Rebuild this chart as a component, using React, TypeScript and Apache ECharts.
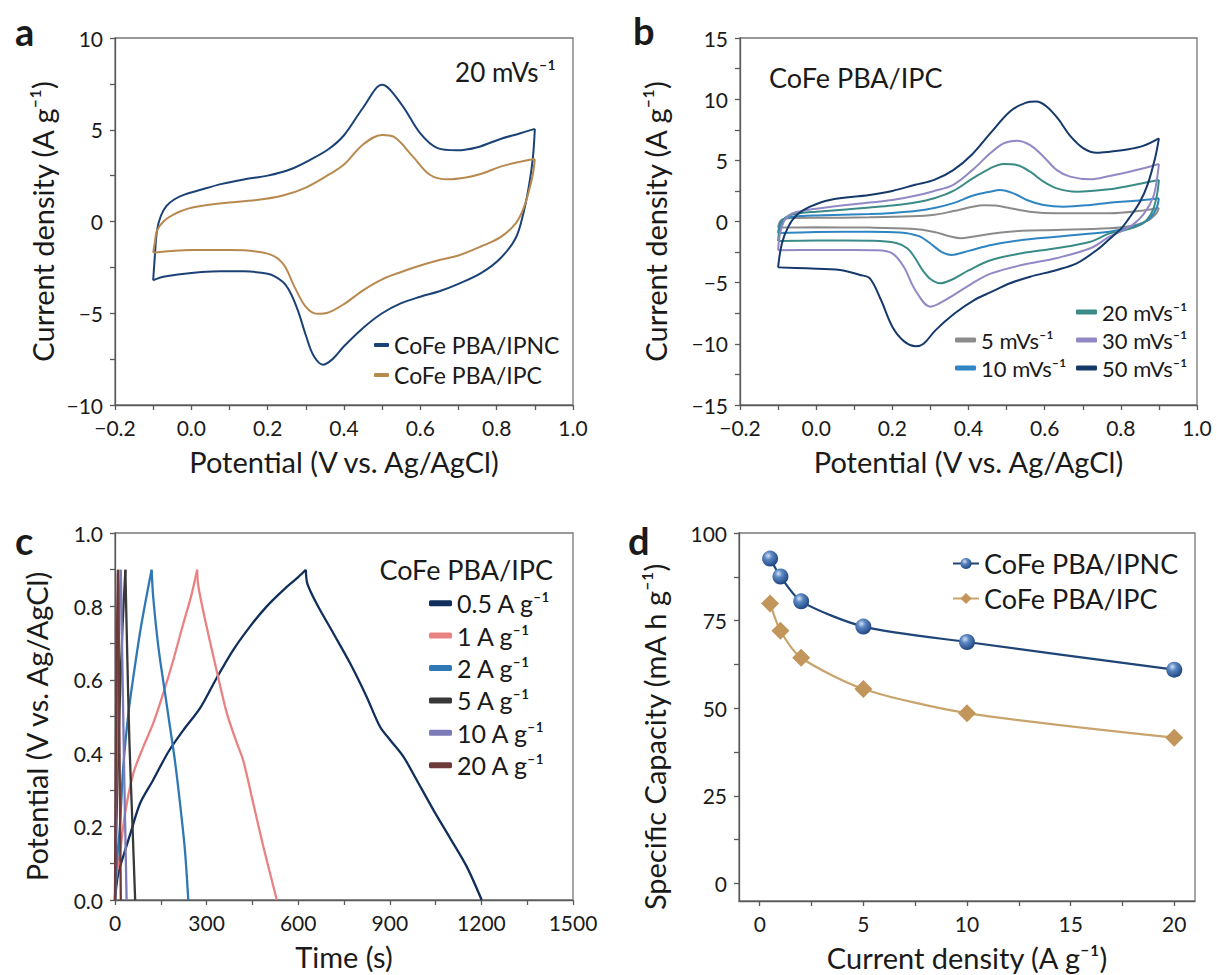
import React, { useEffect, useRef } from 'react';
import * as echarts from 'echarts';

const FONT = 'Lato, "Noto Sans", sans-serif';
const INK = '#1a1a1a';
const AXIS = '#5a5a5a';

// ---------- Panel a : CV at 20 mV/s ----------
const a_ipnc_fwdV = [-0.1, -0.096, -0.09, -0.08, -0.065, -0.045, -0.02, 0.02, 0.08, 0.14, 0.2, 0.26, 0.31, 0.36, 0.4, 0.45, 0.5, 0.55, 0.6, 0.645, 0.695, 0.75, 0.81, 0.86, 0.9];
const a_ipnc_fwdJ = [-3.2, -2.0, -0.5, 0.3, 0.85, 1.2, 1.45, 1.7, 2.05, 2.3, 2.5, 2.85, 3.35, 3.95, 4.7, 6.2, 7.45, 6.4, 4.8, 4.0, 3.88, 4.05, 4.5, 4.8, 5.05];
const a_ipnc_revV = [0.9, 0.895, 0.885, 0.87, 0.85, 0.81, 0.76, 0.7, 0.65, 0.6, 0.55, 0.5, 0.45, 0.4, 0.37, 0.345, 0.32, 0.3, 0.28, 0.26, 0.24, 0.2, 0.1, 0.0, -0.07, -0.1];
const a_ipnc_revJ = [5.05, 3.5, 2.0, 0.45, -0.9, -2.0, -2.8, -3.4, -3.8, -4.1, -4.45, -5.0, -5.8, -6.8, -7.5, -7.8, -7.3, -6.2, -4.9, -3.9, -3.3, -2.85, -2.7, -2.8, -3.0, -3.2];

const a_ipc_fwdV = [-0.1, -0.096, -0.09, -0.073, -0.047, 0.0, 0.08, 0.17, 0.24, 0.3, 0.36, 0.4, 0.45, 0.5, 0.53, 0.58, 0.625, 0.67, 0.72, 0.76, 0.81, 0.86, 0.9];
const a_ipc_fwdJ = [-1.7, -1.2, -0.5, 0.0, 0.38, 0.75, 1.0, 1.17, 1.42, 1.85, 2.55, 3.1, 4.2, 4.72, 4.62, 3.55, 2.55, 2.3, 2.4, 2.6, 2.99, 3.25, 3.4];
const a_ipc_revV = [0.9, 0.895, 0.885, 0.87, 0.85, 0.81, 0.76, 0.7, 0.65, 0.6, 0.55, 0.5, 0.45, 0.4, 0.36, 0.33, 0.3, 0.27, 0.24, 0.2, 0.1, 0.0, -0.1];
const a_ipc_revJ = [3.4, 2.6, 1.7, 0.7, -0.1, -0.85, -1.35, -1.85, -2.1, -2.4, -2.75, -3.15, -3.75, -4.5, -4.95, -5.03, -4.65, -3.55, -2.3, -1.75, -1.55, -1.55, -1.7];

// ---------- Panel b : CV at several scan rates ----------
const b5_fwdV = [-0.1, -0.095, -0.085, -0.06, 0.0, 0.14, 0.25, 0.31, 0.36, 0.41, 0.44, 0.47, 0.51, 0.56, 0.63, 0.77, 0.86, 0.9];
const b5_fwdJ = [-0.5, 0.0, 0.2, 0.28, 0.3, 0.34, 0.42, 0.55, 0.85, 1.2, 1.33, 1.3, 1.08, 0.8, 0.67, 0.67, 0.9, 1.1];
const b5_revV = [0.9, 0.895, 0.885, 0.87, 0.83, 0.77, 0.63, 0.54, 0.46, 0.41, 0.38, 0.35, 0.31, 0.25, 0.14, 0.0, -0.1];
const b5_revJ = [1.1, 0.75, 0.4, 0.05, -0.35, -0.56, -0.69, -0.75, -1.0, -1.25, -1.37, -1.2, -0.85, -0.6, -0.5, -0.48, -0.5];

const b10_fwdV = [-0.1, -0.095, -0.085, -0.07, -0.04, 0.0, 0.14, 0.2, 0.26, 0.31, 0.36, 0.41, 0.457, 0.483, 0.518, 0.553, 0.597, 0.65, 0.72, 0.77, 0.82, 0.86, 0.9];
const b10_fwdJ = [-0.95, -0.2, 0.2, 0.35, 0.45, 0.5, 0.61, 0.7, 0.85, 1.1, 1.5, 2.1, 2.44, 2.57, 2.3, 1.76, 1.35, 1.21, 1.35, 1.54, 1.65, 1.75, 1.9];
const b10_revV = [0.9, 0.895, 0.885, 0.87, 0.84, 0.8, 0.77, 0.63, 0.54, 0.46, 0.4, 0.355, 0.33, 0.3, 0.27, 0.22, 0.14, 0.0, -0.1];
const b10_revJ = [1.9, 1.2, 0.6, 0.1, -0.35, -0.65, -0.83, -1.24, -1.51, -1.92, -2.4, -2.73, -2.5, -1.8, -1.2, -0.9, -0.83, -0.85, -0.95];

const b20_fwdV = [-0.1, -0.095, -0.085, -0.07, -0.04, 0.0, 0.14, 0.2, 0.26, 0.31, 0.36, 0.41, 0.457, 0.492, 0.527, 0.562, 0.597, 0.632, 0.684, 0.77, 0.82, 0.86, 0.9];
const b20_fwdJ = [-1.6, -0.5, 0.2, 0.5, 0.7, 0.8, 1.14, 1.3, 1.55, 1.9, 2.5, 3.5, 4.35, 4.7, 4.62, 4.07, 3.26, 2.71, 2.44, 2.63, 2.9, 3.15, 3.4];
const b20_revV = [0.9, 0.895, 0.885, 0.87, 0.85, 0.8, 0.77, 0.72, 0.63, 0.54, 0.46, 0.4, 0.36, 0.325, 0.3, 0.28, 0.26, 0.24, 0.21, 0.15, 0.0, -0.1];
const b20_revJ = [3.4, 2.2, 1.0, 0.2, -0.3, -0.8, -0.97, -1.65, -2.19, -2.6, -3.15, -4.0, -4.7, -5.05, -4.7, -4.0, -3.0, -2.2, -1.75, -1.57, -1.55, -1.6];

const b30_fwdV = [-0.1, -0.095, -0.085, -0.07, -0.04, 0.0, 0.14, 0.2, 0.26, 0.31, 0.36, 0.41, 0.457, 0.492, 0.527, 0.562, 0.597, 0.632, 0.667, 0.72, 0.77, 0.82, 0.86, 0.9];
const b30_fwdJ = [-2.35, -1.0, 0.0, 0.55, 0.85, 1.05, 1.55, 1.75, 2.1, 2.5, 3.0, 4.2, 5.57, 6.39, 6.61, 6.25, 5.3, 4.2, 3.67, 3.45, 3.72, 4.05, 4.35, 4.7];
const b30_revV = [0.9, 0.895, 0.885, 0.86, 0.83, 0.8, 0.77, 0.72, 0.63, 0.54, 0.46, 0.41, 0.34, 0.3, 0.26, 0.23, 0.2, 0.16, 0.1, 0.0, -0.1];
const b30_revJ = [4.7, 3.5, 2.0, 0.6, -0.3, -0.8, -1.24, -2.19, -3.0, -3.56, -4.24, -5.05, -6.4, -6.96, -5.6, -3.7, -2.6, -2.35, -2.33, -2.33, -2.35];

const b50_fwdV = [-0.1, -0.09, -0.073, -0.051, -0.016, 0.036, 0.14, 0.2, 0.26, 0.31, 0.36, 0.41, 0.457, 0.509, 0.55, 0.578, 0.605, 0.635, 0.667, 0.702, 0.737, 0.772, 0.82, 0.86, 0.9];
const b50_fwdJ = [-3.75, -1.79, -0.42, 0.53, 1.21, 1.76, 2.17, 2.5, 3.0, 3.4, 4.2, 5.5, 7.2, 9.0, 9.7, 9.8, 9.4, 8.4, 7.0, 5.98, 5.62, 5.71, 5.9, 6.2, 6.8];
const b50_revV = [0.9, 0.89, 0.87, 0.85, 0.82, 0.8, 0.772, 0.737, 0.684, 0.632, 0.562, 0.509, 0.457, 0.416, 0.364, 0.313, 0.282, 0.262, 0.231, 0.2, 0.17, 0.141, 0.115, 0.063, -0.025, -0.1];
const b50_revJ = [6.8, 5.2, 3.0, 1.6, 0.2, -0.6, -1.38, -2.33, -3.42, -3.96, -4.51, -5.05, -5.8, -6.4, -7.5, -8.9, -10.0, -10.2, -9.8, -8.6, -6.4, -4.65, -4.37, -3.96, -3.83, -3.75];

// ---------- Panel c : galvanostatic charge / discharge ----------
const c05_chT = [0, 8, 20, 50, 82, 125, 175, 224, 278, 333, 387, 442, 497, 552, 600, 625];
const c05_chV = [0, 0.06, 0.1, 0.18, 0.263, 0.327, 0.404, 0.463, 0.522, 0.605, 0.681, 0.745, 0.8, 0.845, 0.88, 0.9];
const c05_dcT = [625, 630, 660, 715, 770, 824, 868, 901, 945, 988, 1043, 1098, 1152, 1201];
const c05_dcV = [0.9, 0.862, 0.808, 0.727, 0.645, 0.554, 0.472, 0.436, 0.39, 0.327, 0.245, 0.168, 0.091, 0];

const c1_chT = [0, 4, 16, 33, 60, 93, 125, 158, 191, 224, 250, 269];
const c1_chV = [0, 0.06, 0.127, 0.236, 0.345, 0.418, 0.481, 0.563, 0.654, 0.754, 0.83, 0.9];
const c1_dcT = [269, 273, 300, 333, 366, 398, 420, 453, 486, 530];
const c1_dcV = [0.9, 0.855, 0.745, 0.625, 0.51, 0.43, 0.38, 0.263, 0.145, 0];

const c2_chT = [0, 4, 16, 27, 44, 65, 87, 120];
const c2_chV = [0, 0.08, 0.2, 0.363, 0.509, 0.636, 0.754, 0.9];
const c2_dcT = [120, 125, 142, 164, 180, 196, 213, 229, 240];
const c2_dcV = [0.9, 0.827, 0.69, 0.563, 0.472, 0.381, 0.263, 0.136, 0];

const c5_chT = [0, 2, 8, 16, 25, 34];
const c5_chV = [0, 0.1, 0.33, 0.55, 0.75, 0.9];
const c5_dcT = [34, 35, 39, 47, 57, 66];
const c5_dcV = [0.9, 0.86, 0.708, 0.436, 0.209, 0];

const c10_chT = [0, 1, 5, 10, 15, 19];
const c10_chV = [0, 0.1, 0.35, 0.6, 0.8, 0.9];
const c10_dcT = [19, 20, 24, 30, 38];
const c10_dcV = [0.9, 0.85, 0.65, 0.35, 0];

const c20_chT = [0, 0.5, 3, 6, 9, 10];
const c20_chV = [0, 0.1, 0.4, 0.68, 0.88, 0.9];
const c20_dcT = [10, 13, 16, 19];
const c20_dcV = [0.9, 0.6, 0.3, 0];

// ---------- Panel d : rate capability ----------
const d_rate = [0.5, 1, 2, 5, 10, 20];
const d_capIPNC = [92.7, 87.6, 80.5, 73.3, 68.9, 61.0];
const d_capIPC = [79.9, 72.1, 64.4, 55.5, 48.6, 41.6];

// ---------- tick labels ----------
const d_xLabels = [0, 5, 10, 15, 20];
const d_xTicks = [0, 2.5, 5, 7.5, 10, 12.5, 15, 17.5, 20];
const d_yLabels = [0, 25, 50, 75, 100];
const d_yTicks = [0, 12.5, 25, 37.5, 50, 62.5, 75, 87.5, 100];

const zip = (xs: number[], ys: number[]) => xs.map((x, i) => [x, ys[i]]);

const fmt1 = (v: number) => {
  const r = Math.abs(v) < 1e-9 ? 0 : v;
  return (r < 0 ? '\u2212' : '') + Math.abs(r).toFixed(1);
};
const fmt0 = (v: number) => {
  const r = Math.abs(v) < 1e-9 ? 0 : v;
  return (r < 0 ? '\u2212' : '') + String(Math.round(Math.abs(r)));
};

const labelStyle = (formatter: any, extra: any = {}) => ({ color: INK, fontSize: 21, fontFamily: FONT, margin: 12, formatter, ...extra });

const axisBase = (idx: number, extra: any) => ({
  gridIndex: idx,
  type: 'value',
  axisLine: { show: true, onZero: false, lineStyle: { color: AXIS, width: 1.3 } },
  axisTick: { show: true, inside: false, length: 5, lineStyle: { color: AXIS, width: 1.3 } },
  minorTick: { show: true, splitNumber: 2, length: 5, lineStyle: { color: AXIS, width: 1.3 } },
  splitLine: { show: false },
  nameLocation: 'middle',
  nameTextStyle: { color: INK, fontSize: 29, fontFamily: FONT },
  ...extra,
});

const lineSeries = (name: string, color: string, data: number[][], idx: number, width: number, smooth: number) => ({
  type: 'line',
  name,
  xAxisIndex: idx,
  yAxisIndex: idx,
  data,
  color,
  symbol: 'none',
  showSymbol: false,
  smooth,
  lineStyle: { color, width },
  itemStyle: { color },
  emphasis: { disabled: true },
  silent: true,
  z: 3,
});

const cvPair = (name: string, color: string, fV: number[], fJ: number[], rV: number[], rJ: number[], idx: number) => [
  lineSeries(name, color, zip(fV, fJ), idx, 2, 0.35),
  lineSeries(name, color, zip(rV, rJ), idx, 2, 0.35),
];

const C = {
  aIPNC: '#1b4276',
  aIPC: '#b8894f',
  b5: '#8b8b8b',
  b10: '#2e85c2',
  b20: '#3a8b86',
  b30: '#9189c5',
  b50: '#15396b',
  c05: '#102f5c',
  c1: '#e98282',
  c2: '#2f78b5',
  c5: '#383838',
  c10: '#7b7bb7',
  c20: '#6d3a3a',
  dIPNC: '#1f4478',
  dIPC: '#c9a36c',
};

const grids = [
  { left: 115, top: 38, width: 458, height: 367 },
  { left: 740, top: 38, width: 457, height: 367 },
  { left: 115, top: 533, width: 458, height: 367 },
  { left: 739, top: 533, width: 456, height: 368 },
].map((g) => ({ ...g, show: true, borderColor: '#777', borderWidth: 1.3, backgroundColor: 'transparent' }));

const xAxes = [
  axisBase(0, { min: -0.2, max: 1.0, interval: 0.2, name: 'Potential (V vs. Ag/AgCl)', nameGap: 42, axisLabel: labelStyle(fmt1) }),
  axisBase(1, { min: -0.2, max: 1.0, interval: 0.2, name: 'Potential (V vs. Ag/AgCl)', nameGap: 42, axisLabel: labelStyle(fmt1) }),
  axisBase(2, { min: 0, max: 1500, interval: 300, name: 'Time (s)', nameGap: 42, axisLabel: labelStyle(fmt0) }),
  axisBase(3, {
    min: -1, max: 21, name: 'Current density (A g\u207B\u00B9)', nameGap: 42,
    minorTick: { show: false },
    axisTick: { show: true, inside: false, length: 5, customValues: d_xTicks, lineStyle: { color: AXIS, width: 1.3 } },
    axisLabel: labelStyle(fmt0, { customValues: d_xLabels }),
  }),
];

const yAxes = [
  axisBase(0, { min: -10, max: 10, interval: 5, name: 'Current density (A g\u207B\u00B9)', nameGap: 58, axisLabel: labelStyle(fmt0) }),
  axisBase(1, { min: -15, max: 15, interval: 5, name: 'Current density (A g\u207B\u00B9)', nameGap: 70, axisLabel: labelStyle(fmt0) }),
  axisBase(2, {
    min: 0, max: 1.0, interval: 0.2, name: 'Potential (V vs. Ag/AgCl)', nameGap: 64, axisLabel: labelStyle(fmt1),
    nameTextStyle: { color: INK, fontSize: 29, fontFamily: FONT, padding: [0, 20, 0, 0] },
  }),
  axisBase(3, {
    min: -5, max: 100, name: 'Specific Capacity (mA h g\u207B\u00B9)', nameGap: 70,
    nameTextStyle: { color: INK, fontSize: 29, fontFamily: FONT, padding: [0, 40, 0, 0] },
    minorTick: { show: false },
    axisTick: { show: true, inside: false, length: 5, customValues: d_yTicks, lineStyle: { color: AXIS, width: 1.3 } },
    axisLabel: labelStyle(fmt0, { customValues: d_yLabels }),
  }),
];

const sphere = {
  type: 'radial', x: 0.38, y: 0.32, r: 0.7,
  colorStops: [
    { offset: 0, color: '#d4e2f5' },
    { offset: 0.35, color: '#5b87c2' },
    { offset: 1, color: '#1d4480' },
  ],
};

const series: any[] = [
  ...cvPair('a:CoFe PBA/IPNC', C.aIPNC, a_ipnc_fwdV, a_ipnc_fwdJ, a_ipnc_revV, a_ipnc_revJ, 0),
  ...cvPair('a:CoFe PBA/IPC', C.aIPC, a_ipc_fwdV, a_ipc_fwdJ, a_ipc_revV, a_ipc_revJ, 0),

  ...cvPair('5 mVs\u207B\u00B9', C.b5, b5_fwdV, b5_fwdJ, b5_revV, b5_revJ, 1),
  ...cvPair('10 mVs\u207B\u00B9', C.b10, b10_fwdV, b10_fwdJ, b10_revV, b10_revJ, 1),
  ...cvPair('20 mVs\u207B\u00B9', C.b20, b20_fwdV, b20_fwdJ, b20_revV, b20_revJ, 1),
  ...cvPair('30 mVs\u207B\u00B9', C.b30, b30_fwdV, b30_fwdJ, b30_revV, b30_revJ, 1),
  ...cvPair('50 mVs\u207B\u00B9', C.b50, b50_fwdV, b50_fwdJ, b50_revV, b50_revJ, 1),

  lineSeries('0.5 A g\u207B\u00B9', C.c05, zip(c05_chT, c05_chV), 2, 2.3, 0.3),
  lineSeries('0.5 A g\u207B\u00B9', C.c05, zip(c05_dcT, c05_dcV), 2, 2.3, 0.3),
  lineSeries('1 A g\u207B\u00B9', C.c1, zip(c1_chT, c1_chV), 2, 2.3, 0.3),
  lineSeries('1 A g\u207B\u00B9', C.c1, zip(c1_dcT, c1_dcV), 2, 2.3, 0.3),
  lineSeries('2 A g\u207B\u00B9', C.c2, zip(c2_chT, c2_chV), 2, 2.3, 0.3),
  lineSeries('2 A g\u207B\u00B9', C.c2, zip(c2_dcT, c2_dcV), 2, 2.3, 0.3),
  lineSeries('5 A g\u207B\u00B9', C.c5, zip(c5_chT, c5_chV), 2, 2.3, 0.3),
  lineSeries('5 A g\u207B\u00B9', C.c5, zip(c5_dcT, c5_dcV), 2, 2.3, 0.3),
  lineSeries('10 A g\u207B\u00B9', C.c10, zip(c10_chT, c10_chV), 2, 2.3, 0.3),
  lineSeries('10 A g\u207B\u00B9', C.c10, zip(c10_dcT, c10_dcV), 2, 2.3, 0.3),
  lineSeries('20 A g\u207B\u00B9', C.c20, zip(c20_chT, c20_chV), 2, 2.3, 0.3),
  lineSeries('20 A g\u207B\u00B9', C.c20, zip(c20_dcT, c20_dcV), 2, 2.3, 0.3),

  {
    type: 'line', name: 'CoFe PBA/IPNC', xAxisIndex: 3, yAxisIndex: 3,
    data: zip(d_rate, d_capIPNC), smooth: 0.25, symbol: 'circle', symbolSize: 16,
    lineStyle: { color: C.dIPNC, width: 2.2 }, itemStyle: { color: sphere as any, borderWidth: 0 },
    color: C.dIPNC, emphasis: { disabled: true }, silent: true, z: 3,
  },
  {
    type: 'line', name: 'CoFe PBA/IPC', xAxisIndex: 3, yAxisIndex: 3,
    data: zip(d_rate, d_capIPC), smooth: 0.25, symbol: 'diamond', symbolSize: 18,
    lineStyle: { color: C.dIPC, width: 2.2 }, itemStyle: { color: '#c2955b', borderWidth: 0 },
    color: '#c2955b', emphasis: { disabled: true }, silent: true, z: 3,
  },
];

const legendBase = (extra: any) => ({
  orient: 'vertical',
  padding: 0,
  itemGap: 0,
  itemTextGap: 4,
  selectedMode: false,
  icon: 'roundRect',
  ...extra,
});

const legends = [
  legendBase({
    data: ['a:CoFe PBA/IPNC', 'a:CoFe PBA/IPC'], formatter: (n: string) => n.replace(/^a:/, ''),
    left: 374, top: 330, itemWidth: 15, itemHeight: 4,
    textStyle: { color: INK, fontSize: 23, lineHeight: 30, fontFamily: FONT },
  }),
  legendBase({
    data: ['5 mVs\u207B\u00B9', '10 mVs\u207B\u00B9'],
    left: 955, top: 326, itemWidth: 21, itemHeight: 5,
    textStyle: { color: INK, fontSize: 22, lineHeight: 28, fontFamily: FONT },
  }),
  legendBase({
    data: ['20 mVs\u207B\u00B9', '30 mVs\u207B\u00B9', '50 mVs\u207B\u00B9'],
    left: 1076, top: 298, itemWidth: 21, itemHeight: 5,
    textStyle: { color: INK, fontSize: 22, lineHeight: 28, fontFamily: FONT },
  }),
  legendBase({
    data: ['0.5 A g\u207B\u00B9', '1 A g\u207B\u00B9', '2 A g\u207B\u00B9', '5 A g\u207B\u00B9', '10 A g\u207B\u00B9', '20 A g\u207B\u00B9'],
    left: 429, top: 587, itemWidth: 23, itemHeight: 6,
    textStyle: { color: INK, fontSize: 25, lineHeight: 32.4, fontFamily: FONT },
  }),
  legendBase({
    data: ['CoFe PBA/IPNC', 'CoFe PBA/IPC'], icon: undefined,
    left: 952, top: 546, itemWidth: 26, itemHeight: 14,
    textStyle: { color: INK, fontSize: 27, lineHeight: 35, fontFamily: FONT },
  }),
];

const txt = (text: string, x: number, y: number, size: number, align: string, bold = false) => ({
  type: 'text',
  x,
  y,
  silent: true,
  style: {
    text,
    fontSize: size,
    fontFamily: FONT,
    fontWeight: bold ? 'bold' : 'normal',
    fill: INK,
    align,
    verticalAlign: 'middle',
    textAlign: align,
    textVerticalAlign: 'middle',
  },
});

const graphics = [
  txt('a', 15, 31, 38, 'left', true),
  txt('b', 633, 30, 38, 'left', true),
  txt('c', 15, 540, 38, 'left', true),
  txt('d', 628, 540, 38, 'left', true),
  txt('20 mVs\u207B\u00B9', 556, 72, 26, 'right'),
  txt('CoFe PBA/IPC', 769, 77, 27, 'left'),
  txt('CoFe PBA/IPC', 553, 569, 27, 'right'),
];

const option: any = {
  animation: false,
  backgroundColor: '#ffffff',
  grid: grids,
  xAxis: xAxes,
  yAxis: yAxes,
  legend: legends,
  series,
  graphic: graphics,
};

export default function App() {
  const ref = useRef<HTMLDivElement>(null);
  useEffect(() => {
    document.body.style.margin = '0';
    const chart = echarts.init(ref.current as HTMLDivElement, null, { renderer: 'svg' });
    chart.setOption(option);
    return () => chart.dispose();
  }, []);
  return (
    <div
      ref={ref}
      style={{ position: 'absolute', left: 0, top: 0, width: 1217, height: 975, background: '#fff' }}
    />
  );
}
